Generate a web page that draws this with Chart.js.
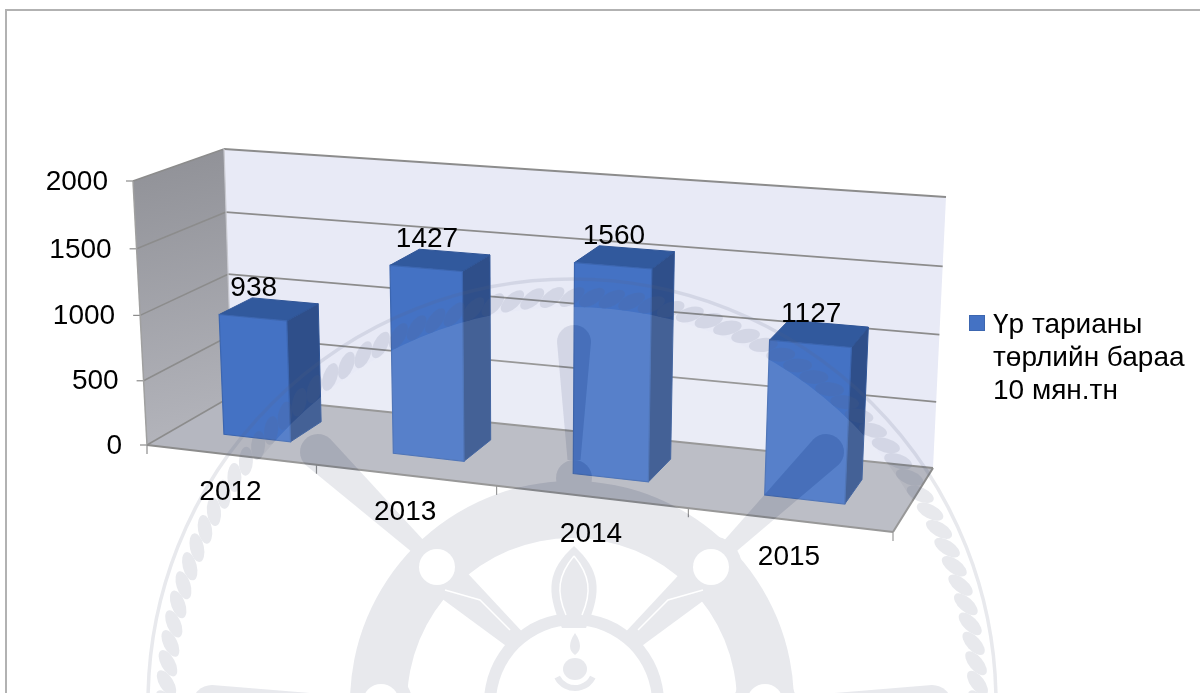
<!DOCTYPE html>
<html><head><meta charset="utf-8">
<style>html,body{margin:0;padding:0;background:#fff}canvas{display:block}</style>
<script src="https://cdn.jsdelivr.net/npm/chart.js@4"></script>
</head><body><canvas id="c" width="1200" height="693"></canvas>
<script>
const categories = ['2012','2013','2014','2015'];
const seriesValues = [938,1427,1560,1127];
const seriesName = 'Үр тарианы төрлийн бараа 10 мян.тн';
const legendLines = ['Үр тарианы','төрлийн бараа','10 мян.тн'];
const FONT = '"Liberation Sans", Arial, sans-serif';

// projection of the chart box: front plane and back plane quads (TL,TR,BR,BL)
const frontQuad = [[133,181],[908,241],[893,532],[147,445]];
const backQuad  = [[224,149],[946,197],[933,468],[232,396]];
const uWarp = 0.02;

function squareToQuad(q){
  const [x0,y0]=q[0],[x1,y1]=q[1],[x2,y2]=q[2],[x3,y3]=q[3];
  const dx1=x1-x2,dx2=x3-x2,dx3=x0-x1+x2-x3,dy1=y1-y2,dy2=y3-y2,dy3=y0-y1+y2-y3;
  const den=dx1*dy2-dx2*dy1;
  const g=(dx3*dy2-dx2*dy3)/den,h=(dx1*dy3-dx3*dy1)/den;
  return {a:x1-x0+g*x1,b:x3-x0+h*x3,c:x0,d:y1-y0+g*y1,e:y3-y0+h*y3,f:y0,g,h};
}
const HF=squareToQuad(frontQuad),HB=squareToQuad(backQuad);
function applyH(H,u,v){const w=H.g*u+H.h*v+1;return [(H.a*u+H.b*v+H.c)/w,(H.d*u+H.e*v+H.f)/w];}
function proj(ca,x,y,d){
  let u=(x-ca.left)/(ca.right-ca.left);const v=(y-ca.top)/(ca.bottom-ca.top);
  u=u*(1-uWarp)/(1-uWarp*u);
  const a=applyH(HF,u,v),b=applyH(HB,u,v);
  return [a[0]+(b[0]-a[0])*d,a[1]+(b[1]-a[1])*d];
}
function poly(ctx,pts,fill,stroke,lw){
  ctx.beginPath();pts.forEach((p,i)=>i?ctx.lineTo(p[0],p[1]):ctx.moveTo(p[0],p[1]));ctx.closePath();
  if(fill){ctx.fillStyle=fill;ctx.fill();}
  if(stroke){ctx.strokeStyle=stroke;ctx.lineWidth=lw||1;ctx.stroke();}
}
function seg(ctx,a,b,col,lw){ctx.beginPath();ctx.moveTo(a[0],a[1]);ctx.lineTo(b[0],b[1]);ctx.strokeStyle=col;ctx.lineWidth=lw;ctx.stroke();}

// decorative emblem behind/through the chart
function emblemMask(){
  const cv=document.createElement('canvas');cv.width=1200;cv.height=693;
  const m=cv.getContext('2d');const C='#000',cx=572,cy=703;
  const disc=(x,y,r)=>{m.beginPath();m.arc(x,y,r,0,7);m.fill();};
  const taper=(x0,y0,w0,x1,y1,w1)=>{
    const a=Math.atan2(y1-y0,x1-x0),nx=-Math.sin(a),ny=Math.cos(a);
    m.beginPath();m.moveTo(x0+nx*w0/2,y0+ny*w0/2);m.lineTo(x1+nx*w1/2,y1+ny*w1/2);
    m.arc(x1,y1,w1/2,a+Math.PI/2,a-Math.PI/2,true);
    m.lineTo(x0-nx*w0/2,y0-ny*w0/2);m.closePath();m.fill();
  };
  m.fillStyle=C;m.strokeStyle=C;
  m.lineWidth=3.5;m.beginPath();m.arc(cx,cy,424,0,7);m.stroke();
  const n=128;
  for(let i=0;i<n;i++){
    const t=i/n*Math.PI*2;
    m.save();m.translate(cx+406*Math.cos(t),cy+406*Math.sin(t));m.rotate(t+Math.PI/2-0.6);
    m.beginPath();m.ellipse(0,0,14.5,7,0,0,7);m.fill();m.restore();
  }
  // wheel rim
  m.beginPath();m.arc(cx,cy,222,0,7);m.arc(cx,cy,165,0,7,true);m.fill();
  // handles
  taper(574,460,13,574,342,34);
  disc(574,478,18);
  taper(425,553,15,318,452,36);
  taper(723,553,15,826,452,36);
  taper(365,705,15,212,705,40);
  taper(780,705,15,932,705,40);
  [[437,567],[711,567],[381,702],[765,702]].forEach(p=>disc(p[0],p[1],31));
  // hub ring
  m.beginPath();m.arc(cx+2,cy,90,0,7);m.arc(cx+2,cy,78,0,7,true);m.fill();
  // inner petals and diagonal spokes
  m.beginPath();m.moveTo(574,546);m.bezierCurveTo(548,570,545,590,562,628);
  m.lineTo(586,628);m.bezierCurveTo(603,590,600,570,574,546);m.fill();
  taper(519,643,20,455,586,36);
  taper(629,643,20,693,586,36);
  // centre device
  m.beginPath();m.moveTo(575,633);m.quadraticCurveTo(565,648,575,655);m.quadraticCurveTo(585,648,575,633);m.fill();
  m.beginPath();m.ellipse(575,669,12,11,0,0,7);m.fill();
  m.lineWidth=6;m.beginPath();m.arc(575,668,20,0.15*Math.PI,0.85*Math.PI);m.stroke();
  // holes and fine white lines
  m.globalCompositeOperation='destination-out';
  [[437,567],[711,567],[381,702],[765,702]].forEach(p=>disc(p[0],p[1],18));
  m.lineWidth=1.5;
  m.beginPath();m.moveTo(574,556);m.bezierCurveTo(558,575,556,592,566,615);m.stroke();
  m.beginPath();m.moveTo(574,556);m.bezierCurveTo(590,575,592,592,582,615);m.stroke();
  m.beginPath();m.moveTo(445,590);m.lineTo(480,600);m.lineTo(510,630);m.stroke();
  m.beginPath();m.moveTo(703,590);m.lineTo(668,600);m.lineTo(638,630);m.stroke();
  m.globalCompositeOperation='source-over';
  return cv;
}
function drawEmblem(ctx){
  const mask=emblemMask();
  const a=document.createElement('canvas');a.width=1200;a.height=693;
  const ax=a.getContext('2d');ax.drawImage(mask,0,0);
  ax.globalCompositeOperation='source-in';ax.fillStyle='rgb(90,100,130)';ax.fillRect(0,0,1200,693);
  const b=document.createElement('canvas');b.width=1200;b.height=693;
  const bx=b.getContext('2d');bx.fillStyle='#fff';bx.beginPath();bx.arc(572,703,396,0,7);bx.fill();
  bx.globalCompositeOperation='destination-out';bx.drawImage(mask,0,0);
  ctx.save();
  ctx.globalAlpha=0.1;ctx.drawImage(b,0,0);
  ctx.globalAlpha=0.14;ctx.drawImage(a,0,0);
  ctx.restore();
}

const box3d={
  id:'box3d',
  beforeDatasetsDraw(chart){
    const {ctx,chartArea:ca,scales:{y:ys}}=chart;
    const l=ca.left,r=ca.right,t=ca.top,b=ca.bottom;
    ctx.save();
    seg(ctx,[6,10],[1200,10],'#b2b2b2',2);seg(ctx,[6,9],[6,693],'#b2b2b2',2);
    poly(ctx,[proj(ca,l,t,1),proj(ca,r,t,1),proj(ca,r,b,1),proj(ca,l,b,1)],'#e8eaf6');
    const sw=[proj(ca,l,t,0),proj(ca,l,t,1),proj(ca,l,b,1),proj(ca,l,b,0)];
    const g=ctx.createLinearGradient(133,150,200,445);g.addColorStop(0,'#8f9096');g.addColorStop(1,'#b4b5bc');
    poly(ctx,sw,g);
    poly(ctx,[proj(ca,l,b,0),proj(ca,r,b,0),proj(ca,r,b,1),proj(ca,l,b,1)],'#b5b7c0');
    ys.ticks.forEach(tk=>{
      const y=ys.getPixelForValue(tk.value);
      const p0=proj(ca,l,y,0),p1=proj(ca,l,y,1),p2=proj(ca,r,y,1);
      seg(ctx,p0,p1,'#8c8c8c',1.5);
      seg(ctx,p1,p2,'#8c8c8c',1.8);
      seg(ctx,[p0[0]-7,p0[1]],p0,'#8c8c8c',1.2);
    });
    seg(ctx,proj(ca,l,t,0),proj(ca,l,b,0),'#a0a0a0',1.5);
    seg(ctx,proj(ca,l,t,1),proj(ca,l,b,1),'#c8c9d0',1.2);
    seg(ctx,proj(ca,l,b,0),proj(ca,r,b,0),'#8c8c8c',2);
    seg(ctx,proj(ca,r,b,0),proj(ca,r,b,1),'#8c8c8c',2);
    const step=(r-l)/categories.length;
    for(let i=0;i<=categories.length;i++){
      const p=proj(ca,l+step*i,b,0);
      seg(ctx,p,[p[0],p[1]+9],'#8c8c8c',1.2);
    }
    ctx.restore();
  },
  beforeDatasetDraw(chart,args){
    const {ctx,chartArea:ca}=chart;
    const D0=0.33,D1=0.72;
    ctx.save();
    args.meta.data.forEach(el=>{
      const x0=el.x-el.width/2,x1=el.x+el.width/2,yt=el.y,yb=el.base;
      const P=(x,y,d)=>proj(ca,x,y,d);
      poly(ctx,[P(x1,yt,D0),P(x1,yt,D1),P(x1,yb,D1),P(x1,yb,D0)],'#2f4f8a','#2f5597',1);
      poly(ctx,[P(x0,yt,D0),P(x1,yt,D0),P(x1,yt,D1),P(x0,yt,D1)],'#31599d','#2f5597',1);
      poly(ctx,[P(x0,yt,D0),P(x1,yt,D0),P(x1,yb,D0),P(x0,yb,D0)],'#4472c4','#3c66b0',1.2);
    });
    ctx.restore();
    return false;
  },
  afterDatasetsDraw(chart){
    const {ctx,chartArea:ca,scales:{y:ys,x:xs}}=chart;
    const {left:l,bottom:b}=ca;
    drawEmblem(ctx);
    ctx.save();
    ctx.fillStyle='#000';ctx.font='28px '+FONT;ctx.textBaseline='middle';
    ctx.textAlign='right';
    ys.ticks.forEach(tk=>{
      const p=proj(ca,l,ys.getPixelForValue(tk.value),0);
      ctx.fillText(String(tk.value),p[0]-25,p[1]+1);
    });
    ctx.textAlign='center';
    categories.forEach((c,i)=>{
      const p=proj(ca,xs.getPixelForValue(i),b,0);
      ctx.fillText(c,p[0],p[1]+37.5);
    });
    const meta=chart.getDatasetMeta(0);
    meta.data.forEach((el,i)=>{
      const p=proj(ca,el.x,el.y,0.33);
      ctx.fillText(String(seriesValues[i]),p[0]+1,p[1]-29.5);
    });
    ctx.fillStyle='#4472c4';ctx.strokeStyle='#3c66b0';ctx.lineWidth=1;
    ctx.fillRect(969.5,315.5,15,15);ctx.strokeRect(969.5,315.5,15,15);
    ctx.fillStyle='#000';ctx.font='28px '+FONT;ctx.textAlign='left';
    legendLines.forEach((t,i)=>ctx.fillText(t,993,325+i*33));
    ctx.restore();
  }
};

new Chart(document.getElementById('c').getContext('2d'),{
  type:'bar',
  data:{labels:categories,datasets:[{label:seriesName,data:seriesValues,backgroundColor:'#4472c4',
    categoryPercentage:1,barPercentage:0.4}]},
  options:{
    responsive:false,animation:false,
    layout:{padding:{left:147,right:307,top:181,bottom:248}},
    plugins:{legend:{display:false},tooltip:{enabled:false},title:{display:false}},
    scales:{
      x:{ticks:{display:false},grid:{display:false},border:{display:false}},
      y:{min:0,max:2000,ticks:{stepSize:500,display:false},grid:{display:false},border:{display:false}}
    }
  },
  plugins:[box3d]
});
</script></body></html>
